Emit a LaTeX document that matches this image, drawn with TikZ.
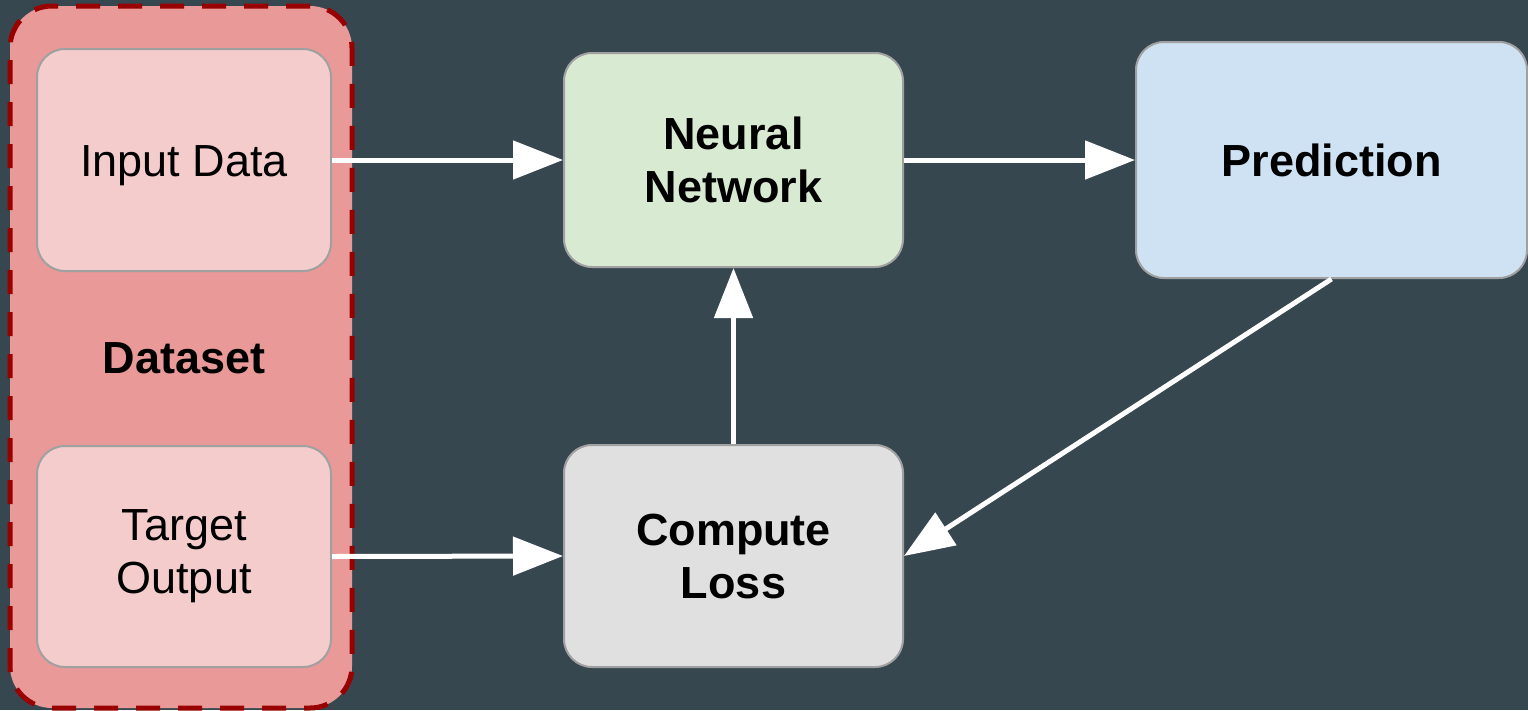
\documentclass[tikz,border=0pt]{standalone}
\usepackage{fontspec}
\setmainfont{Liberation Sans}
\usetikzlibrary{arrows.meta}
\definecolor{bg}{RGB}{55,71,79}
\definecolor{dsfill}{RGB}{234,153,153}
\definecolor{dsline}{RGB}{153,0,0}
\definecolor{pinkfill}{RGB}{244,204,204}
\definecolor{greenfill}{RGB}{217,234,211}
\definecolor{bluefill}{RGB}{207,226,243}
\definecolor{grayfill}{RGB}{224,224,224}
\definecolor{boxline}{RGB}{160,160,160}
\tikzset{
  box/.style={draw=boxline, line width=2pt, rounded corners=28pt, align=center,
    inner sep=0pt, font=\fontsize{45}{53}\selectfont, text=black},
  boldbox/.style={box, font=\fontsize{45}{53}\selectfont\bfseries},
  oneline/.style={text height=32pt, text depth=0pt},
  flow/.style={draw=white, line width=5pt, -{Triangle[length=50pt,width=38pt]}},
}
\begin{document}
\begin{tikzpicture}[x=1pt,y=-1pt]
\fill[bg] (0,0) rectangle (1528,710);
\useasboundingbox (0,0) rectangle (1528,710);
\node[draw=dsline, fill=dsfill, line width=5pt, dash pattern=on 24pt off 18pt,
  rounded corners=42pt, minimum width=342pt, minimum height=702pt, inner sep=0pt]
  (dataset) at (181,357) {};
\node[font=\fontsize{45}{53}\selectfont\bfseries, text=black, oneline, inner sep=0pt] (dslabel) at (184,357) {Dataset};
\node[box, oneline, fill=pinkfill, minimum width=294pt, minimum height=222pt] (input) at (184,160) {Input Data};
\node[box, fill=pinkfill, minimum width=294pt, minimum height=221pt] (target) at (184,556.5) {Target\\Output};
\node[boldbox, fill=greenfill, minimum width=339pt, minimum height=214pt] (nn) at (733.5,160) {Neural\\Network};
\node[boldbox, oneline, fill=bluefill, minimum width=391pt, minimum height=236pt] (pred) at (1331.5,160) {Prediction};
\node[boldbox, fill=grayfill, minimum width=339pt, minimum height=222pt] (loss) at (733.5,556) {Compute\\Loss};
\draw[flow] (input.east) -- (nn.west);
\draw[flow] (nn.east) -- (pred.west);
\draw[flow] (loss.north) -- (nn.south);
\draw[flow] (target.east) -- (loss.west);
\draw[flow] (pred.south) -- (loss.east);
\end{tikzpicture}
\end{document}
